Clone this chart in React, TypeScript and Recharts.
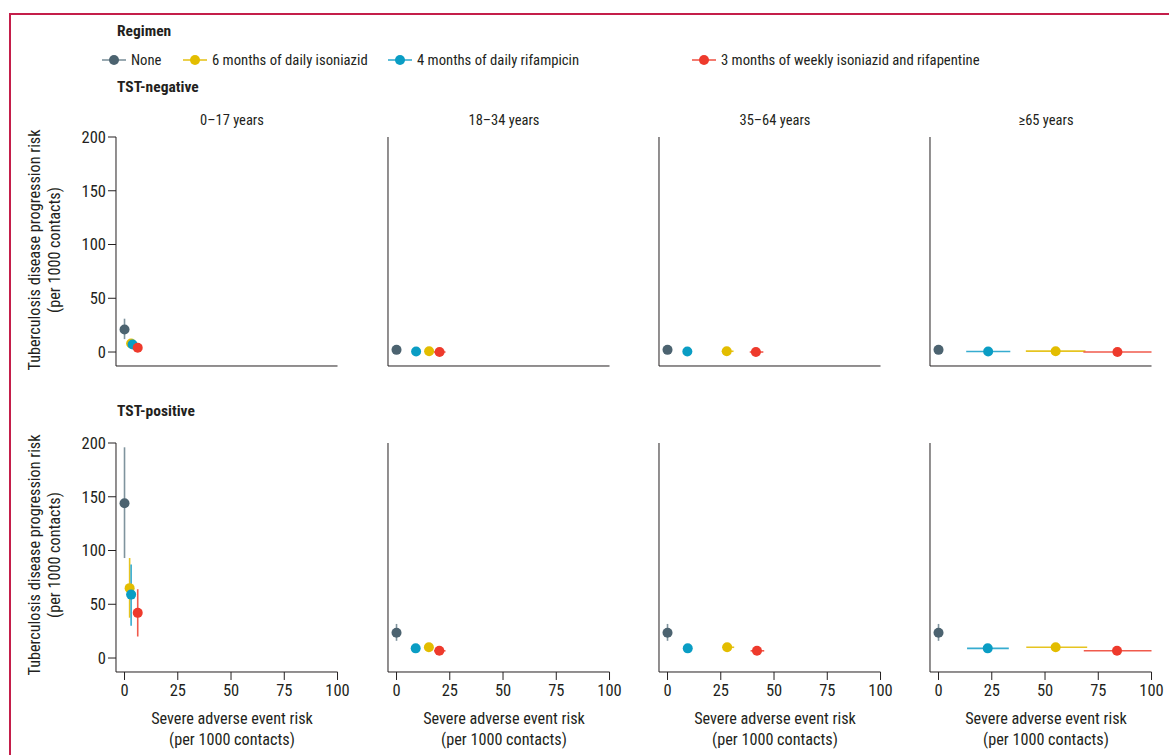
import React from 'react';
import { ScatterChart, Scatter, XAxis, YAxis, ErrorBar } from 'recharts';

const FONT = "'Roboto Condensed', 'Liberation Sans Narrow', Roboto, sans-serif";
const INK = '#231f20';

const ageGroups = ['0–17 years', '18–34 years', '35–64 years', '≥65 years'];
const regimens = ['None', '6 months of daily isoniazid', '4 months of daily rifampicin', '3 months of weekly isoniazid and rifapentine'];
const dotColors = ['#4c6370', '#e3bd00', '#0a9dc4', '#ee3a2c'];
const barColors = ['#7f939d', '#e6c420', '#36acd0', '#f05a4c'];

const xTicks = [0, 25, 50, 75, 100];
const yTicks = [0, 50, 100, 150, 200];

// TST-negative: severe adverse event risk (x) per regimen, by age group
const negSae = [[0, 0, 0, 0], [3.1, 15.3, 27.8, 55], [3.8, 9.2, 9.3, 23.3], [6.2, 20.2, 41.5, 84]];
const negSaeLow = [[0, 0, 0, 0], [2.5, 14.5, 25.5, 41], [3.2, 8.6, 8.7, 13], [5.2, 17.6, 38.6, 68]];
const negSaeHigh = [[0, 0, 0, 0], [3.8, 16.5, 31, 69], [4.4, 9.8, 9.9, 33.7], [7.4, 23, 45, 100]];
// TST-negative: TB progression risk (y)
const negTb = [[21, 2, 2, 2], [8, 0.7, 0.7, 0.8], [7, 0.5, 0.5, 0.5], [4, 0, 0, 0]];
const negTbLow = [[12, 1, 1, 1], [6, 0.4, 0.4, 0.5], [5, 0.3, 0.3, 0.3], [2.5, 0, 0, 0]];
const negTbHigh = [[31, 3, 3, 3], [10, 1, 1, 1.1], [9, 0.7, 0.7, 0.7], [5.5, 0.3, 0.3, 0.3]];

// TST-positive
const posSae = [[0, 0, 0, 0], [2.4, 15.2, 28, 55], [3.1, 9, 9.5, 23.1], [6.2, 20.1, 42, 83.8]];
const posSaeLow = [[0, 0, 0, 0], [1.8, 14.5, 25.8, 41.2], [2.6, 8.5, 9, 13.4], [5.5, 17.6, 39, 68.2]];
const posSaeHigh = [[0, 0, 0, 0], [3, 16, 31.3, 69.8], [3.6, 9.5, 10, 33], [7, 23, 45.4, 100]];
const posTb = [[144, 23.5, 23.5, 23.5], [65, 10, 10, 10], [59, 9, 9, 9], [42, 6.7, 6.7, 6.7]];
const posTbLow = [[93, 16, 16, 16], [37.5, 9, 9, 9], [30, 8.3, 8.3, 8.3], [20, 6, 6, 6]];
const posTbHigh = [[196, 31.7, 31.7, 31.7], [93, 11, 11, 11], [87, 9.7, 9.7, 9.7], [64, 7.4, 7.4, 7.4]];

const rows = [
  { title: 'TST-negative', sae: negSae, saeLow: negSaeLow, saeHigh: negSaeHigh, tb: negTb, tbLow: negTbLow, tbHigh: negTbHigh },
  { title: 'TST-positive', sae: posSae, saeLow: posSaeLow, saeHigh: posSaeHigh, tb: posTb, tbLow: posTbLow, tbHigh: posTbHigh },
];

const colZero = [125, 397, 668, 939];
const rowTop = [137, 443];
const PX = 2.13;
const PLOT_W = 104 * PX;
const PLOT_H = 229;
const Y_W = 45;
const X_H = 34;
const M_TOP = 10;
const M_RIGHT = 14;
const TICK_FONT = { fontSize: 16.5, fill: INK, fontFamily: FONT };

function Panel({ r, c }: { r: number; c: number }) {
  const row = rows[r];
  const left = colZero[c] - 4 * PX - Y_W;
  const top = rowTop[r] - M_TOP;
  return (
    <div style={{ position: 'absolute', left, top }}>
      <ScatterChart width={Y_W + PLOT_W + M_RIGHT} height={M_TOP + PLOT_H + X_H} margin={{ top: M_TOP, right: M_RIGHT, bottom: 0, left: 0 }}>
        <XAxis type="number" dataKey="x" domain={[-4, 100]} ticks={xTicks} allowDataOverflow height={X_H}
          tick={r === 1 ? TICK_FONT : false}
          tickSize={8} tickMargin={4} stroke={INK} tickLine={{ stroke: INK }} />
        <YAxis type="number" dataKey="y" domain={[-13, 200]} ticks={yTicks} allowDataOverflow width={Y_W}
          tick={c === 0 ? TICK_FONT : false}
          tickSize={8} tickMargin={2} stroke={INK} tickLine={{ stroke: INK }} />
        {regimens.map((name, i) => {
          const x = row.sae[i][c];
          const y = row.tb[i][c];
          const data = [{ x, y, ex: [x - row.saeLow[i][c], row.saeHigh[i][c] - x], ey: [y - row.tbLow[i][c], row.tbHigh[i][c] - y] }];
          return (
            <Scatter key={name} name={name} data={data} isAnimationActive={false}
              shape={(p: any) => <circle cx={p.cx} cy={p.cy} r={5} fill={dotColors[i]} />}>
              <ErrorBar dataKey="ex" direction="x" width={0} stroke={barColors[i]} strokeWidth={1.6} />
              <ErrorBar dataKey="ey" direction="y" width={0} stroke={barColors[i]} strokeWidth={1.6} />
            </Scatter>
          );
        })}
      </ScatterChart>
    </div>
  );
}

const legendLeft = [102, 183, 388, 692];

export default function App() {
  const text: React.CSSProperties = { position: 'absolute', fontFamily: FONT, color: INK, fontSize: 14.7, whiteSpace: 'nowrap', lineHeight: 1 };
  return (
    <div style={{ position: 'relative', width: 1169, height: 755, background: '#fff', overflow: 'hidden' }}>
      <style>{'body{margin:0}'}</style>
      <div style={{ position: 'absolute', left: 9, top: 13, width: 1200, height: 800, borderLeft: '2px solid #c41e4a', borderTop: '2px solid #c41e4a' }} />
      <div style={{ ...text, left: 117, top: 24, fontWeight: 700, fontSize: 15.5 }}>Regimen</div>
      {regimens.map((name, i) => (
        <div key={name} style={{ ...text, left: legendLeft[i], top: 53, display: 'flex', alignItems: 'center' }}>
          <svg width={24} height={14} style={{ marginRight: 5 }}>
            <line x1={0} x2={24} y1={7} y2={7} stroke={barColors[i]} strokeWidth={1.6} />
            <circle cx={12} cy={7} r={5} fill={dotColors[i]} />
          </svg>
          <span>{name}</span>
        </div>
      ))}
      {rows.map((row, r) => (
        <div key={row.title} style={{ ...text, left: 117, top: r === 0 ? 80 : 404, fontWeight: 700, fontSize: 15.5 }}>{row.title}</div>
      ))}
      {ageGroups.map((g, c) => (
        <div key={g} style={{ ...text, left: colZero[c] + 107 - 60, width: 120, textAlign: 'center', top: 114, fontSize: 14.5 }}>{g}</div>
      ))}
      {rows.map((row, r) => (
        <div key={'yl' + r} style={{ ...text, left: 45 - 150, top: (r === 0 ? 250 : 555) - 20, width: 300, height: 40, textAlign: 'center', lineHeight: '20px', fontSize: 16.2, transform: 'rotate(-90deg)' }}>
          Tuberculosis disease progression risk<br />(per 1000 contacts)
        </div>
      ))}
      {ageGroups.map((g, c) => (
        <div key={'xl' + g} style={{ ...text, left: colZero[c] + 107 - 100, width: 200, textAlign: 'center', top: 708, lineHeight: '21px', fontSize: 16.2 }}>
          Severe adverse event risk<br />(per 1000 contacts)
        </div>
      ))}
      {rows.map((row, r) => ageGroups.map((g, c) => <Panel key={row.title + g} r={r} c={c} />))}
    </div>
  );
}
